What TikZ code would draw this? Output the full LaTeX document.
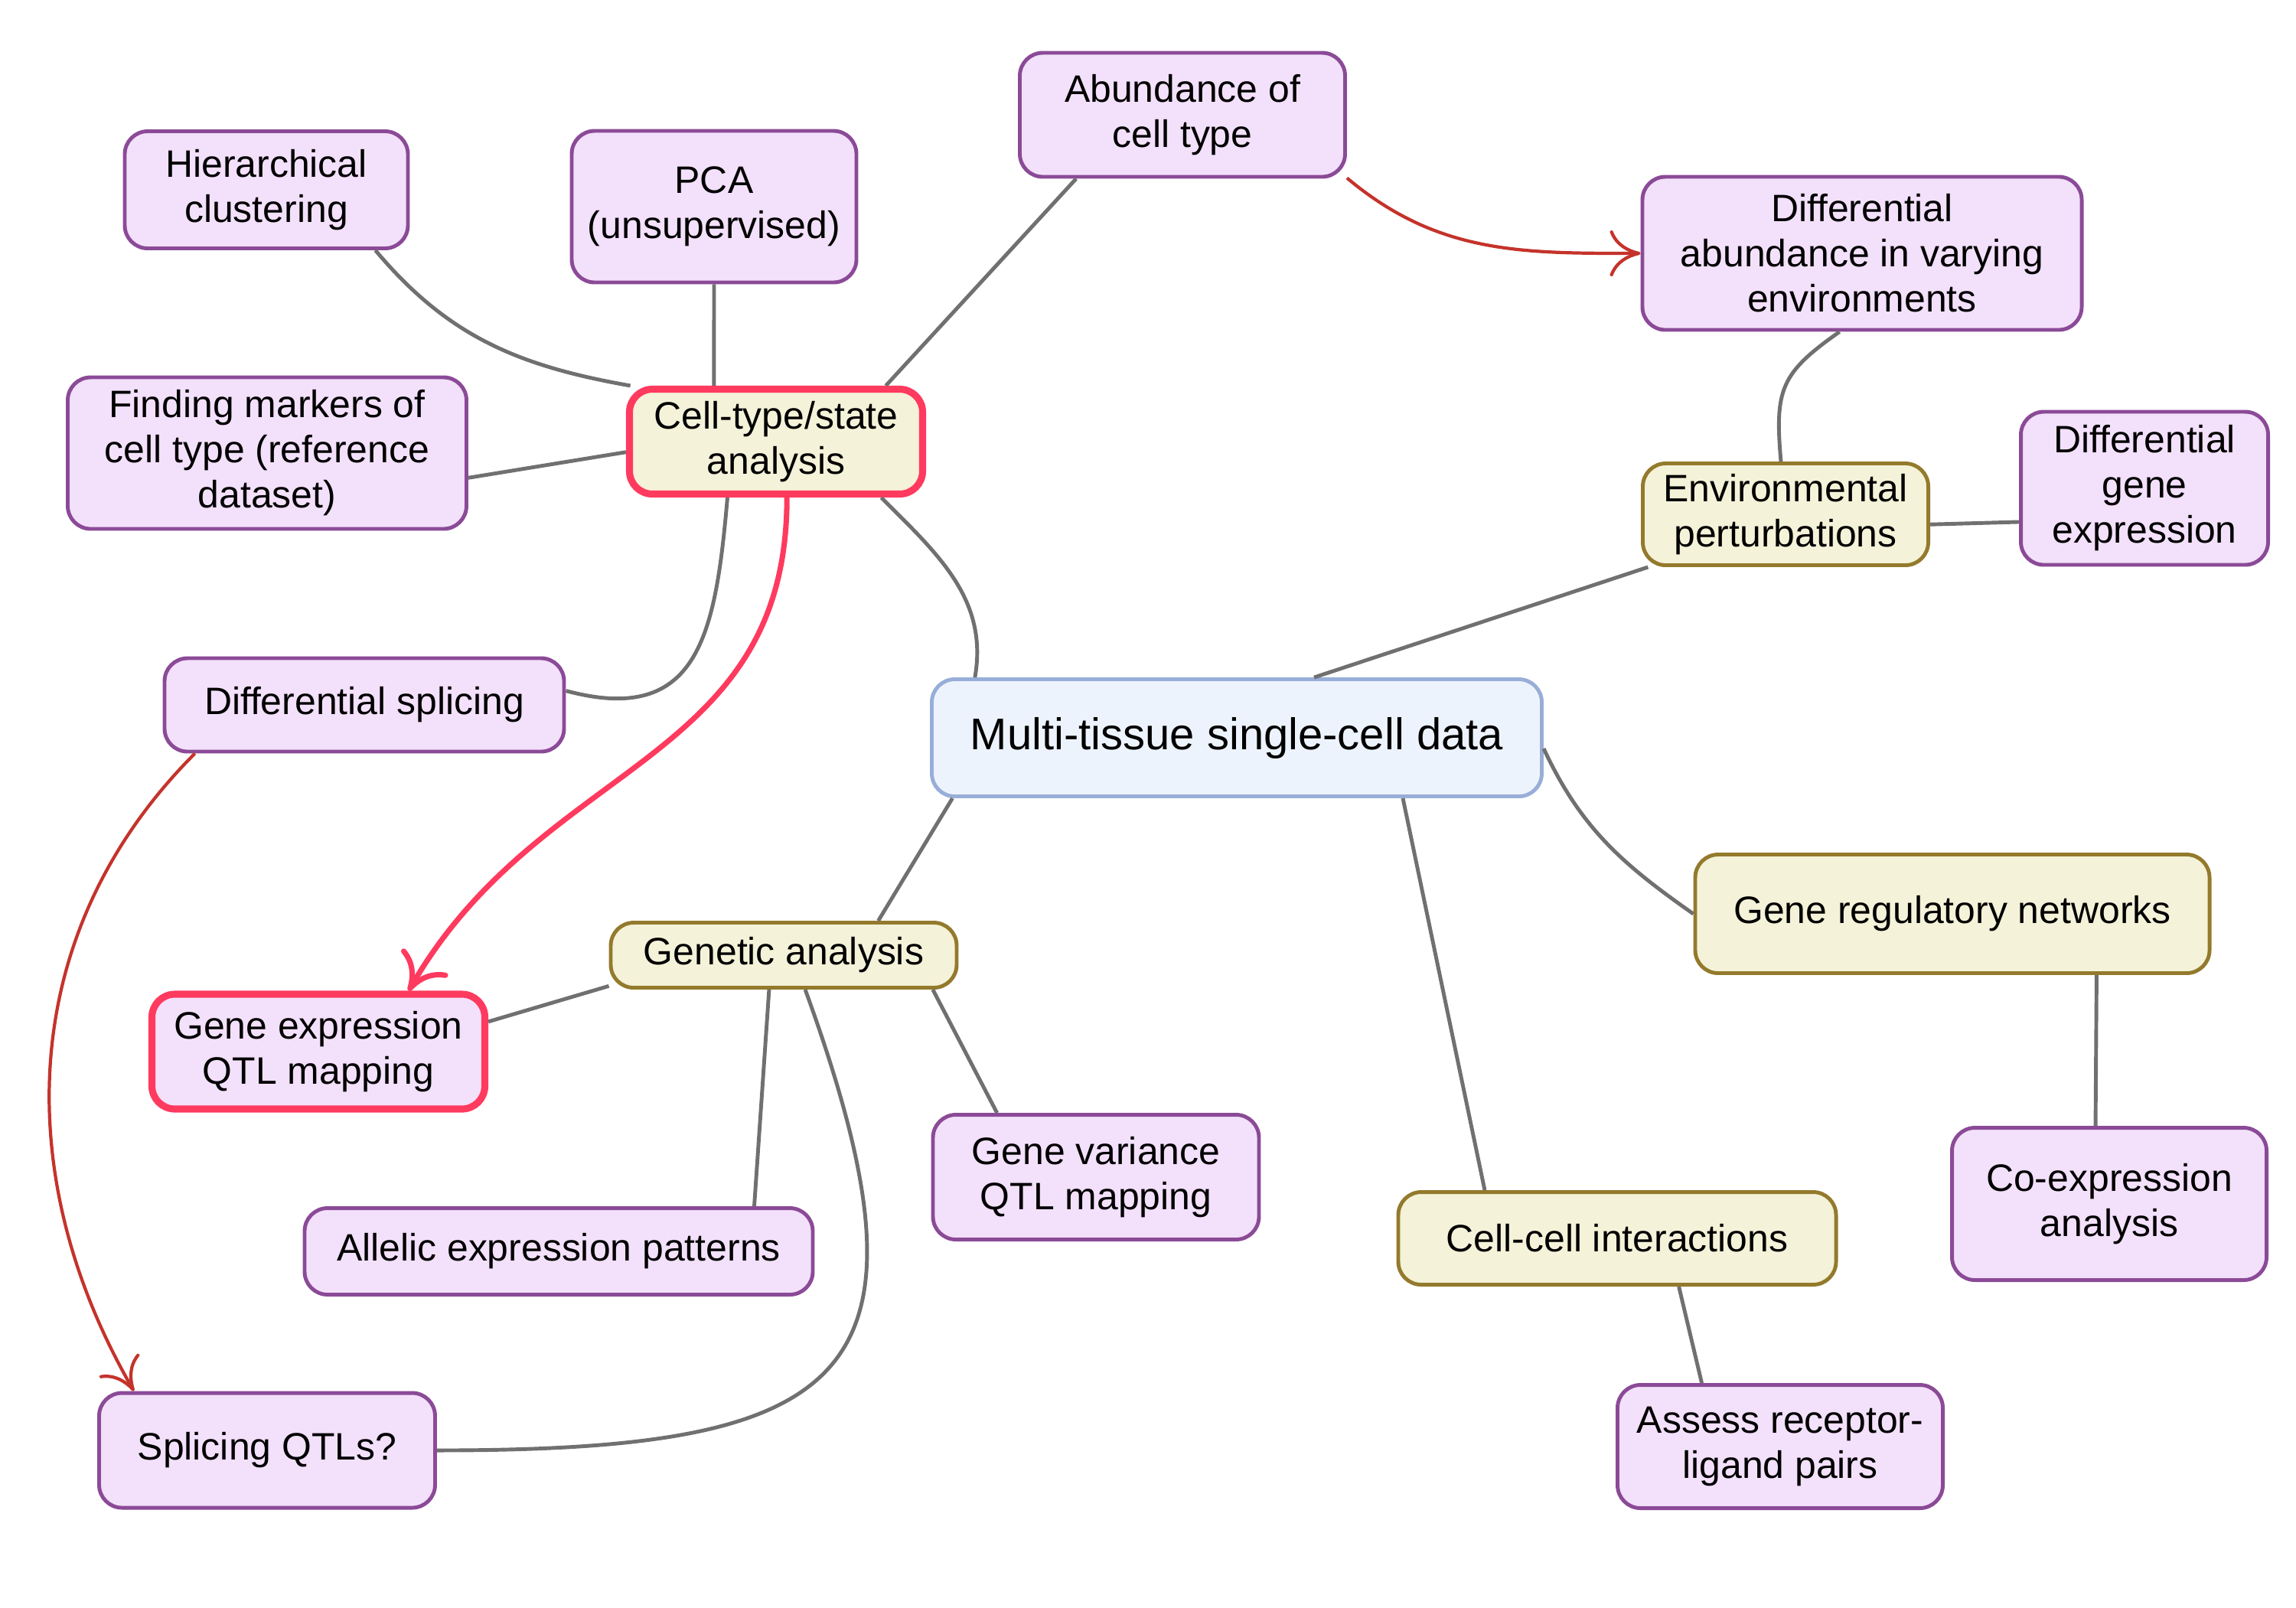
\documentclass[tikz,border=0pt]{standalone}
\usepackage{fontspec}
\setmainfont{Liberation Sans}
\usetikzlibrary{arrows.meta}

\definecolor{leafbg}{HTML}{F3E0FA}
\definecolor{leafline}{HTML}{8B4A97}
\definecolor{topicbg}{HTML}{F4F2D8}
\definecolor{topicline}{HTML}{937A2C}
\definecolor{rootbg}{HTML}{EDF3FC}
\definecolor{rootline}{HTML}{98AED8}
\definecolor{hotline}{HTML}{FF3A5F}
\definecolor{arrowred}{HTML}{C4332B}
\definecolor{linkgray}{HTML}{707070}

\begin{document}
\begin{tikzpicture}
  [every node/.style={rounded corners=0.3cm,align=center,inner sep=0pt,line width=1.4pt,
     font=\fontsize{14.2}{16.8}\selectfont},
   sz/.style 2 args={minimum width=#1cm,minimum height=#2cm},
   leaf/.style={draw=leafline,fill=leafbg},
   topic/.style={draw=topicline,fill=topicbg},
   root/.style={draw=rootline,fill=rootbg,font=\fontsize{16.5}{20}\selectfont},
   hot/.style={draw=hotline,line width=2.6pt},
   link/.style={draw=linkgray,line width=1.4pt},
   redlink/.style={draw=arrowred,line width=1.2pt,-{To[length=4mm,width=6mm]}},
   hotlink/.style={draw=hotline,line width=2pt,-{To[length=4.5mm,width=7mm]}}]
  \useasboundingbox (0,0) rectangle (30,-21);
  % centre
  \node[root,sz={7.97}{1.53}] (mt) at (16.16,-9.64) {Multi-tissue single-cell data};
  % cell type branch
  \node[topic,hot,sz={3.83}{1.37}] (ct) at (10.14,-5.77) {Cell-type/state\\analysis};
  \node[leaf,sz={3.70}{1.53}] (hc) at (3.48,-2.48) {Hierarchical\\clustering};
  \node[leaf,sz={3.72}{1.98}] (pca) at (9.33,-2.70) {PCA\\(unsupervised)};
  \node[leaf,sz={4.25}{1.62}] (abd) at (15.45,-1.50) {Abundance of\\cell type};
  \node[leaf,sz={5.21}{1.98}] (fm) at (3.49,-5.92) {Finding markers of\\cell type (reference\\dataset)};
  \node[leaf,sz={5.22}{1.22}] (dsp) at (4.76,-9.21) {Differential splicing};
  % environment branch
  \node[topic,sz={3.73}{1.33}] (env) at (23.33,-6.72) {Environmental\\perturbations};
  \node[leaf,sz={5.74}{2.00}] (dab) at (24.33,-3.31) {Differential\\abundance in varying\\environments};
  \node[leaf,sz={3.23}{2.00}] (dge) at (28.02,-6.38) {Differential\\gene\\expression};
  % genetics branch
  \node[topic,sz={4.52}{0.85}] (gen) at (10.24,-12.48) {Genetic analysis};
  \node[leaf,hot,sz={4.35}{1.50}] (eqtl) at (4.16,-13.74) {Gene expression\\QTL mapping};
  \node[leaf,sz={4.26}{1.63}] (vqtl) at (14.32,-15.38) {Gene variance\\QTL mapping};
  \node[leaf,sz={6.64}{1.13}] (ael) at (7.30,-16.35) {Allelic expression patterns};
  \node[leaf,sz={4.39}{1.50}] (sqtl) at (3.49,-18.95) {Splicing QTLs?};
  % networks and interactions
  \node[topic,sz={6.72}{1.55}] (grn) at (25.51,-11.94) {Gene regulatory networks};
  \node[leaf,sz={4.11}{1.99}] (coex) at (27.56,-15.73) {Co-expression\\analysis};
  \node[topic,sz={5.72}{1.21}] (cci) at (21.13,-16.18) {Cell-cell interactions};
  \node[leaf,sz={4.25}{1.61}] (rlp) at (23.26,-18.90) {Assess receptor-\\ligand pairs};

  \foreach \from/\to in {pca.south/ct.138, abd.211/ct.27, fm.353/ct.184,
      mt.38/env.201, env.356/dge.195, grn.337/coex.100, mt.340/cci.160,
      cci.322/rlp.141, mt.192/gen.20, gen.190/eqtl.10, gen.247/ael.13, gen.347/vqtl.147}
    \draw[link] (\from) -- (\to);
  \draw[link] (hc.331) to[out=-50,in=170] (ct.159);
  \draw[link] (ct.229) to[out=-95,in=-15,looseness=1.4] (dsp.4);
  \draw[link] (ct.332) to[out=-45,in=80] (mt.167);
  \draw[link] (env.95) to[out=95,in=215,looseness=1.3] (dab.254);
  \draw[link] (mt.358) to[out=-65,in=145] (grn.west);
  \draw[link] (gen.302) to[out=-70,in=0,looseness=1.8] (sqtl.east);
  \draw[hotlink] (ct.281) to[out=-90,in=60,looseness=1.1] (eqtl.34);
  \draw[redlink] (abd.339) to[out=-40,in=180] (dab.west);
  \draw[redlink] (dsp.196) to[out=-135,in=120] (sqtl.156);
\end{tikzpicture}
\end{document}
